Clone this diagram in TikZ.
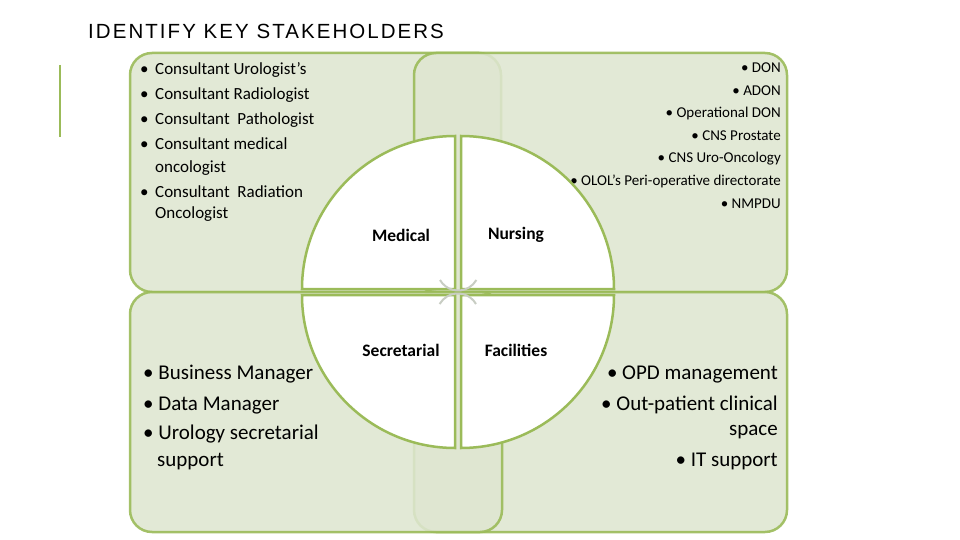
\documentclass[tikz,border=0pt]{standalone}
\usepackage{fontspec}
\setmainfont{Carlito}
\newfontfamily\titlefont[LetterSpace=10]{Liberation Sans}
\definecolor{pfill}{RGB}{222,230,208}
\definecolor{pline}{RGB}{155,187,89}
\definecolor{darrow}{RGB}{200,205,195}
\begin{document}
\begin{tikzpicture}[x=1pt,y=-1pt,
  panel/.style={fill=pfill,draw=pline,line width=2.5pt,rounded corners=22pt,fill opacity=0.88,draw opacity=0.9},
  quad/.style={fill=white,draw=pline,line width=2.5pt},
  tl/.style={anchor=base west,font=\fontsize{17}{20}\selectfont,inner sep=0pt},
  tr/.style={anchor=base east,font=\fontsize{15}{18}\selectfont,inner sep=0pt},
  bl/.style={anchor=base west,font=\fontsize{21}{24}\selectfont,inner sep=0pt},
  lab/.style={font=\fontsize{17.5}{20}\selectfont\bfseries,inner sep=0pt}]
\useasboundingbox (0,0) rectangle (960,540);
\node[anchor=base west,inner sep=0pt,font=\titlefont\fontsize{20.5}{24}\selectfont] (title) at (88,39) {IDENTIFY KEY STAKEHOLDERS};
\draw[pline,line width=2pt] (60,65) -- (60,137);
% panels
\draw[panel] (130,53) rectangle (501,292);
\draw[panel] (414,53) rectangle (787,292);
\draw[panel] (414,292) rectangle (787,532);
\draw[panel] (130,292) rectangle (502,532);
% top-left text
\foreach \y/\t in {75/Consultant Urologist’s,100/Consultant Radiologist,125/Consultant\ \ Pathologist,150/Consultant medical,197/Consultant\ \ Radiation}
  {\node[tl] at (140,\y) {•}; \node[tl] at (155,\y) {\t};}
\node[tl] (o1) at (155,172) {oncologist};
\node[tl] (o2) at (155,218) {Oncologist};
% top-right text
\foreach \y/\t in {73/DON,95.5/ADON,118/Operational DON,140.5/CNS Prostate,163/CNS Uro-Oncology,185.5/OLOL’s Peri-operative directorate,208/NMPDU}
  {\node[tr] at (781,\y) {• \t};}
% bottom-left text
\node[bl] at (143,379) {• Business Manager};
\node[bl] at (143,410) {• Data Manager};
\node[bl] at (143,439) {• Urology secretarial};
\node[bl] at (157,466) {support};
% bottom-right text
\node[tr,font=\fontsize{21}{24}\selectfont] at (778,379) {• OPD management};
\node[tr,font=\fontsize{21}{24}\selectfont] at (778,410) {• Out-patient clinical};
\node[tr,font=\fontsize{21}{24}\selectfont] at (778,435) {space};
\node[tr,font=\fontsize{21}{24}\selectfont] at (778,466) {• IT support};
% circle quadrants
\draw[quad] (455,289) -- (302,289) arc[start angle=180,end angle=270,radius=153] -- cycle;
\draw[quad] (461,289) -- (461,136) arc[start angle=270,end angle=360,radius=153] -- cycle;
\draw[quad] (455,295) -- (455,448) arc[start angle=90,end angle=180,radius=153] -- cycle;
\draw[quad] (461,295) -- (614,295) arc[start angle=0,end angle=90,radius=153] -- cycle;
% center arrows
\draw[darrow,line width=2pt] (440,280) arc[start angle=150,end angle=30,radius=21];
\draw[darrow,line width=2pt] (476,304) arc[start angle=-30,end angle=-150,radius=21];
% labels
\node[lab] (med) at (401,235) {Medical};
\node[lab] (nur) at (516,235) {Nursing};
\node[lab] (sec) at (401,350) {Secretarial};
\node[lab] (fac) at (516,350) {Facilities};
\end{tikzpicture}
\end{document}
